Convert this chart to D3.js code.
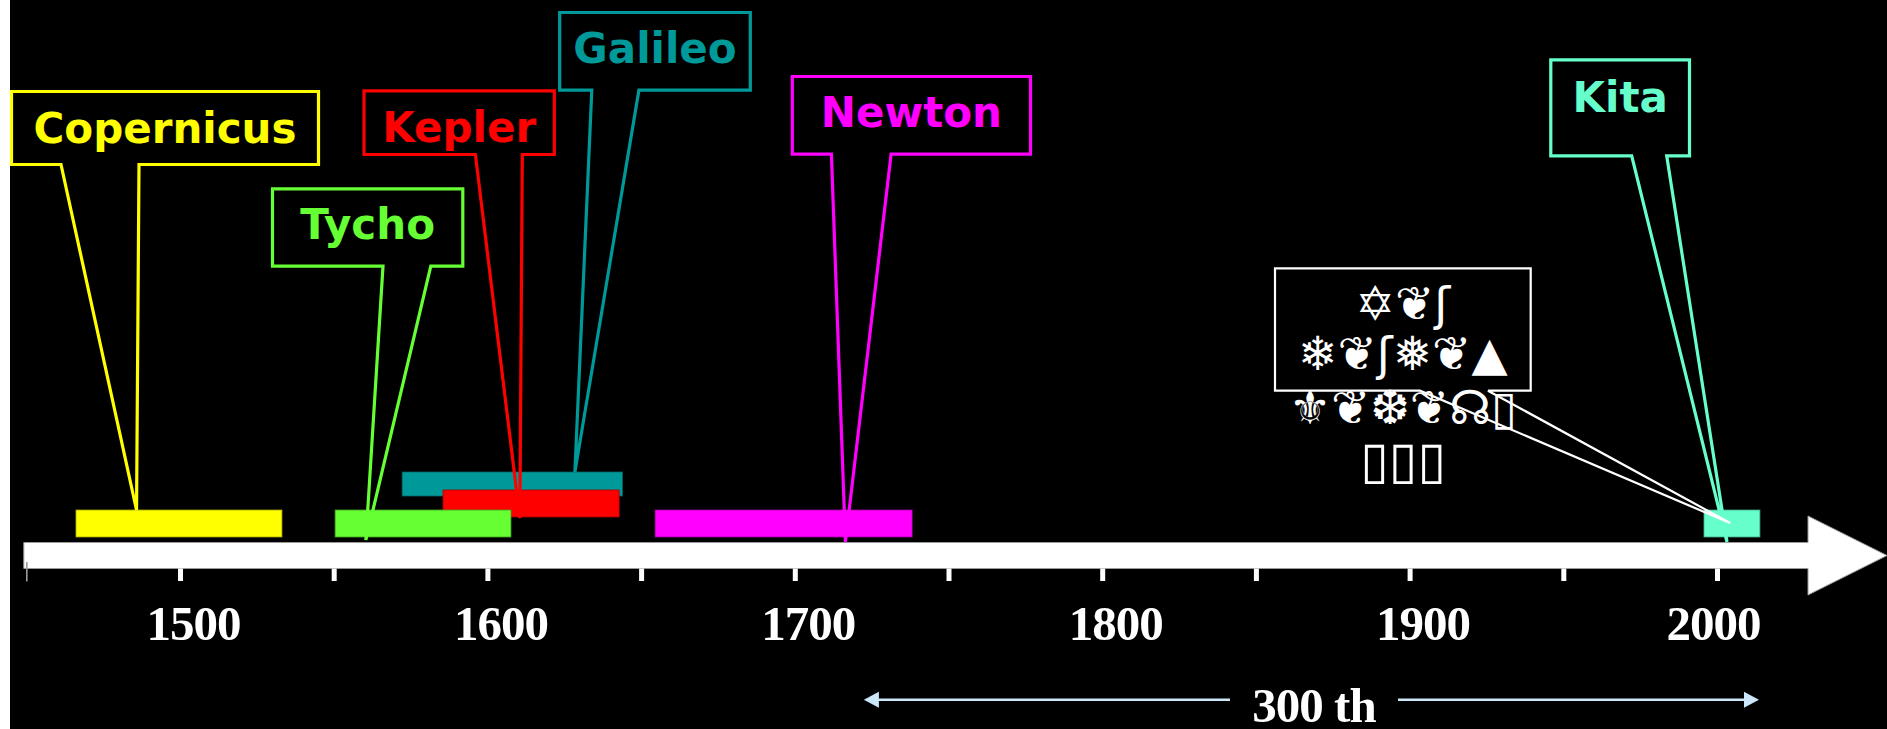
<!DOCTYPE html>
<html>
<head>
<meta charset="utf-8">
<script src="https://cdn.jsdelivr.net/npm/d3@7"></script>
<style>
  body { margin: 0; background: #fff; overflow: hidden; }
</style>
</head>
<body>
<div id="chart"></div>
<script>
// timeline data
var names = ["Copernicus", "Tycho", "Kepler", "Galileo", "Newton", "Kita"];
var startYears = [1466.0, 1550.3, 1585.4, 1572.1, 1654.4, 1995.6];
var endYears = [1533.0, 1607.5, 1642.7, 1643.8, 1738.0, 2013.8];
var lanes = [0, 0, 1, 2, 0, 0];
var pointerYears = [1485.7, 1560.3, 1610.4, 1628.3, 1716.3, 2003.1];
var tickYears = d3.range(1450, 2001, 50);
var labelYears = [1500, 1600, 1700, 1800, 1900, 2000];
var spanYears = [1722.3, 2013.5];
var spanLabel = "300 th";
var noteLines = ["\u2721\u2766\u0283", "\u2744\u2766\u0283\u2745\u2766\u25B2", "\u269C\u2766\u2746\u2766\u260A\u25AF", "\u25AF\u25AF\u25AF"];
var notePointerYear = 2004.1;

var colors = ["#ffff00", "#66ff33", "#ff0000", "#009999", "#ff00ff", "#66ffcc"];

var svgWidth = 1887, svgHeight = 729;

var svg = d3.select("#chart").append("svg")
  .attr("width", svgWidth)
  .attr("height", svgHeight);

// black slide, white sliver on the left
svg.append("rect").attr("x", 10).attr("y", 0)
  .attr("width", svgWidth - 10).attr("height", svgHeight)
  .attr("fill", "#000");

// year scale
var x = d3.scaleLinear().domain([1500, 2000]).range([180.5, 1717.5]);
var laneTop = d3.scaleOrdinal().domain([0, 1, 2]).range([510, 490, 472]);
var laneHeight = d3.scaleOrdinal().domain([0, 1, 2]).range([27, 27, 24]);

// axis arrow
var bandTop = 542.5, bandBottom = 568.5, headX = 1808, tipX = 1887;
svg.append("path")
  .attr("d", `M${x(1450) - 3},${bandTop} L${headX},${bandTop} L${headX},516 L${tipX},555.5 L${headX},595 L${headX},${bandBottom} L${x(1450) - 3},${bandBottom} Z`)
  .attr("fill", "#fff")
  .attr("stroke", "#9a9a9a")
  .attr("stroke-width", 1);

// ticks
svg.selectAll(".tick").data(tickYears).enter()
  .append("rect")
  .attr("x", d => x(d) - (d === 1450 ? 0.8 : 2.5))
  .attr("y", d => d === 1450 ? 562 : bandBottom)
  .attr("width", d => d === 1450 ? 1.6 : 5)
  .attr("height", d => d === 1450 ? 19.5 : 12.5)
  .attr("fill", d => d === 1450 ? "#9a9a9a" : "#fff");

// tick labels (the last one sits right on its tick in the slide)
svg.selectAll(".yearLabel").data(labelYears).enter()
  .append("text")
  .attr("x", d => x(d) + (d === 2000 ? -4 : 13))
  .attr("y", 640)
  .attr("text-anchor", "middle")
  .style("font-family", "'Liberation Serif', 'Times New Roman', serif")
  .style("font-weight", "bold")
  .style("font-size", "49px")
  .style("letter-spacing", "-1px")
  .attr("fill", "#fff")
  .text(d => d);

// life bars (higher lanes first so lower lanes sit on top)
var people = names.map((n, i) => ({
  name: n, start: startYears[i], end: endYears[i], lane: lanes[i],
  pointer: pointerYears[i], color: colors[i]
}));
var barOrder = people.slice().sort((a, b) => b.lane - a.lane);

svg.selectAll(".bar").data(barOrder).enter()
  .append("rect")
  .attr("x", d => x(d.start))
  .attr("y", d => laneTop(d.lane))
  .attr("width", d => x(d.end) - x(d.start))
  .attr("height", d => laneHeight(d.lane))
  .attr("fill", d => d.color)
  .attr("stroke", d => d3.color(d.color).darker(1.2))
  .attr("stroke-width", 0.8);

// callout layout: box [x0, y0, x1, y1], pointer base, tip height, text baseline
var layout = {
  Copernicus: { box: [11.5, 91.5, 318.5, 164.5], base: [61, 139], tipY: 510, textY: 143 },
  Tycho: { box: [272.5, 188.8, 462.8, 266.2], base: [383, 430.8], tipY: 540, textY: 239 },
  Kepler: { box: [364, 90.8, 554.3, 154.5], base: [475.4, 522.3], tipY: 518, textY: 141.5 },
  Galileo: { box: [559.7, 12.5, 750.3, 90.2], base: [591.8, 638.9], tipY: 472, textY: 63 },
  Newton: { box: [792.3, 76.5, 1030.5, 154.2], base: [831.4, 891.1], tipY: 542, textY: 126.5 },
  Kita: { box: [1550.8, 59.8, 1689.5, 155.8], base: [1631.7, 1666.7], tipY: 542, textY: 111.5 }
};

function calloutPath(b, base, tx, ty) {
  return `M${b[0]},${b[1]} L${b[2]},${b[1]} L${b[2]},${b[3]} L${base[1]},${b[3]} L${tx},${ty} L${base[0]},${b[3]} L${b[0]},${b[3]} Z`;
}

var calloutGroup = svg.selectAll(".callout").data(people).enter().append("g");

calloutGroup.append("path")
  .attr("d", d => calloutPath(layout[d.name].box, layout[d.name].base, x(d.pointer), layout[d.name].tipY))
  .attr("fill", "none")
  .attr("stroke", d => d.color)
  .attr("stroke-width", 3.2)
  .attr("stroke-linejoin", "miter");

calloutGroup.append("text")
  .attr("x", d => (layout[d.name].box[0] + layout[d.name].box[2]) / 2)
  .attr("y", d => layout[d.name].textY)
  .attr("text-anchor", "middle")
  .style("font-family", "'DejaVu Sans', Verdana, sans-serif")
  .style("font-weight", "bold")
  .style("font-size", "42px")
  .attr("fill", d => d.color)
  .text(d => d.name);

// white note callout
var noteBox = [1275, 268.3, 1530.7, 390.7];
svg.append("path")
  .attr("d", calloutPath(noteBox, [1420, 1488], x(notePointerYear), 523))
  .attr("fill", "none")
  .attr("stroke", "#fff")
  .attr("stroke-width", 2.2);

svg.selectAll(".note").data(noteLines).enter()
  .append("text")
  .attr("x", (noteBox[0] + noteBox[2]) / 2)
  .attr("y", (d, i) => [320, 370, 424, 478][i])
  .attr("text-anchor", "middle")
  .style("font-family", "'DejaVu Sans', sans-serif")
  .style("font-size", (d, i) => i === 3 ? "52px" : "47px")
  .attr("fill", "#fff")
  .text(d => d);

// 300 th span arrow
var spanY = 699.7, spanColor = "#cce6fa";
var spanMid = 1314, gapHalf = 84;
svg.append("line")
  .attr("x1", x(spanYears[0]) + 14).attr("x2", spanMid - gapHalf)
  .attr("y1", spanY).attr("y2", spanY)
  .attr("stroke", spanColor).attr("stroke-width", 2.6);
svg.append("line")
  .attr("x1", spanMid + gapHalf).attr("x2", x(spanYears[1]) - 14)
  .attr("y1", spanY).attr("y2", spanY)
  .attr("stroke", spanColor).attr("stroke-width", 2.6);
svg.append("path")
  .attr("d", `M${x(spanYears[0])},${spanY} L${x(spanYears[0]) + 15},${spanY - 8} L${x(spanYears[0]) + 15},${spanY + 8} Z`)
  .attr("fill", spanColor);
svg.append("path")
  .attr("d", `M${x(spanYears[1])},${spanY} L${x(spanYears[1]) - 15},${spanY - 8} L${x(spanYears[1]) - 15},${spanY + 8} Z`)
  .attr("fill", spanColor);

svg.append("text")
  .attr("x", spanMid)
  .attr("y", 722)
  .attr("text-anchor", "middle")
  .style("font-family", "'Liberation Serif', 'Times New Roman', serif")
  .style("font-weight", "bold")
  .style("font-size", "49px")
  .style("letter-spacing", "-1px")
  .attr("fill", "#fff")
  .text(spanLabel);
</script>
</body>
</html>
